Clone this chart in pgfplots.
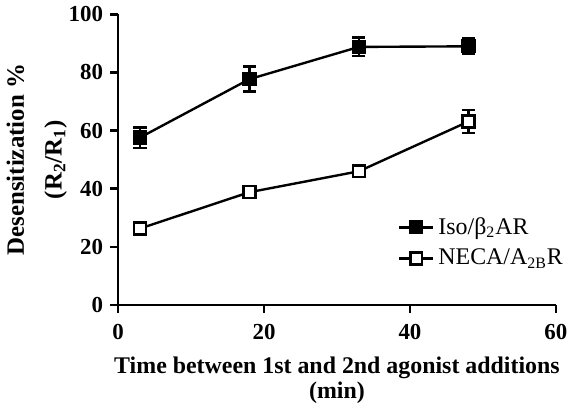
\documentclass[border=0pt]{standalone}
\usepackage{fontspec}
\setmainfont{Liberation Serif}
\usepackage{pgfplots}
\pgfplotsset{compat=1.18}

\begin{document}
\begin{tikzpicture}
\begin{axis}[
    scale only axis,
    width=220pt, height=146pt,
    xmin=0, xmax=60, ymin=0, ymax=100,
    axis x line=bottom, axis y line=left,
    axis line style={-, line width=1.3pt},
    xtick={0,20,40,60}, ytick={0,20,40,60,80,100},
    tick align=outside, major tick length=4pt,
    tick style={line width=1.3pt, black},
    /pgf/number format/assume math mode=true,
    tick label style={font=\fontsize{11.5}{13}\selectfont\bfseries},
    xticklabel style={yshift=-2pt},
    xlabel={Time between 1st and 2nd agonist additions\\(min)},
    ylabel={Desensitization \%\\[5pt](R\textsubscript{2}/R\textsubscript{1})},
    xlabel style={font=\fontsize{12}{12.5}\selectfont\bfseries, align=center, yshift=-2pt},
    ylabel style={font=\fontsize{12.5}{14}\selectfont\bfseries, align=center,
        at={(ticklabel cs:0.5,-6pt)}},
    legend style={at={(0.625,0.33)}, anchor=north west, draw=none, fill=none,
        font=\fontsize{12}{15}\selectfont, row sep=2pt},
    legend cell align=left,
    clip=false,
]
\addplot[black, line width=1.2pt, mark=square*, mark size=3pt,
    mark options={solid, fill=black},
    error bars/.cd, y dir=both, y explicit,
    error bar style={line width=1.2pt},
    error mark options={rotate=90, mark size=3.3pt, line width=1.2pt}]
table[x=t, y=d, y error=e] {
t  d     e
3  57.6  3.5
18 77.7  4.3
33 88.8  3.2
48 89.0  2.7
};
\addlegendentry{Iso/β\textsubscript{2}AR}
\addplot[black, line width=1.2pt, mark=square*, mark size=3pt,
    mark options={solid, fill=white},
    error bars/.cd, y dir=both, y explicit,
    error bar style={line width=1.2pt},
    error mark options={rotate=90, mark size=3.3pt, line width=1.2pt}]
table[x=t, y=d, y error=e] {
t  d     e
3  26.3  1.2
18 38.8  1.5
33 46.0  1.5
48 63.1  3.9
};
\addlegendentry{NECA/A\textsubscript{2B}R}
\end{axis}
\end{tikzpicture}
\end{document}
